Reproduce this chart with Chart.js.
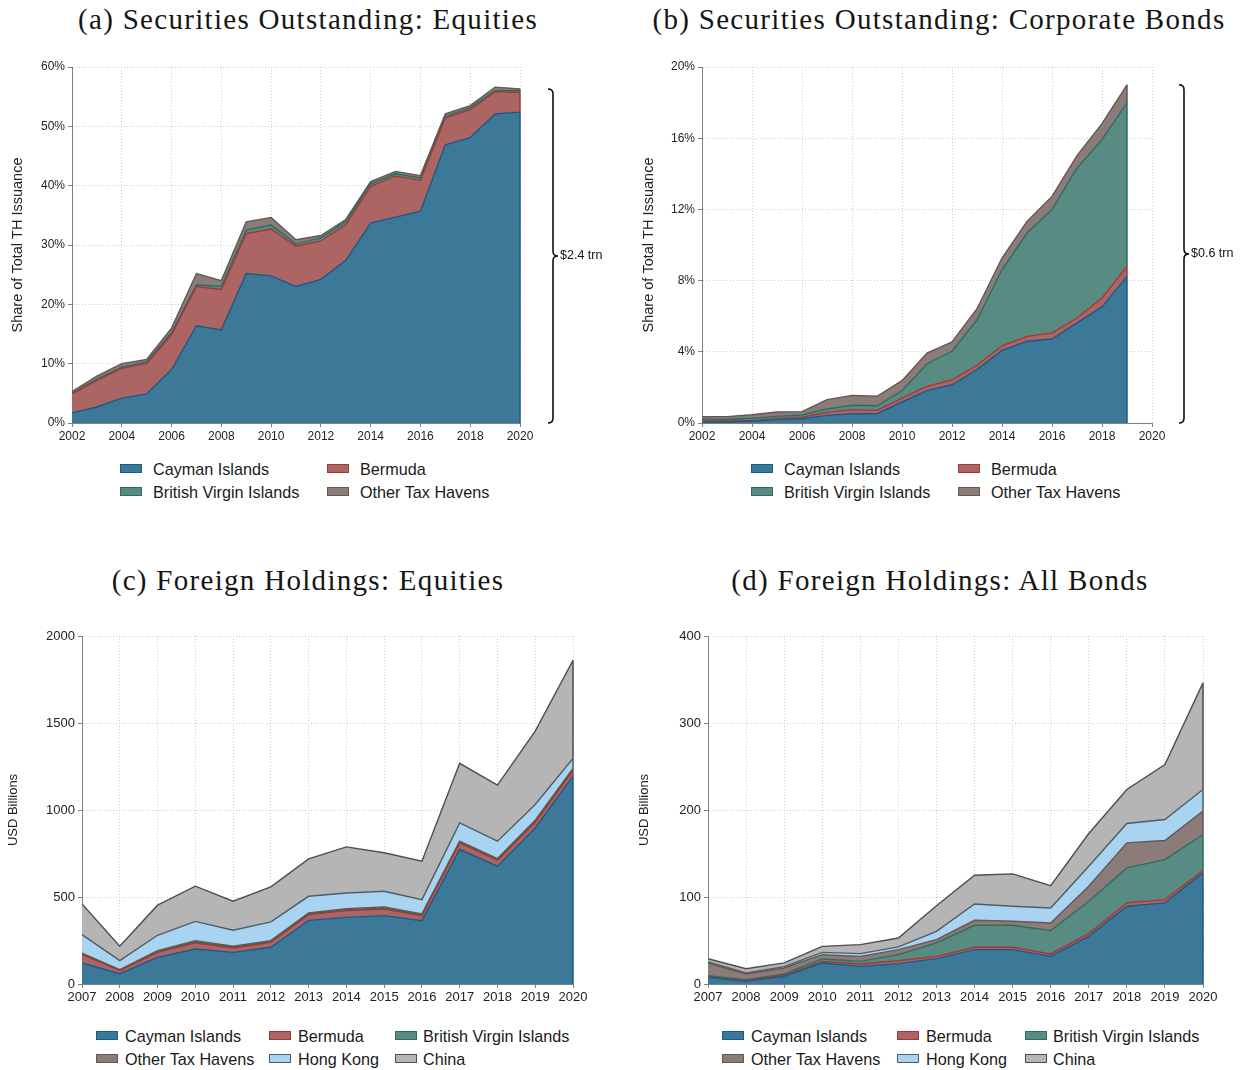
<!DOCTYPE html>
<html>
<head>
<meta charset="utf-8">
<script src="https://cdn.jsdelivr.net/npm/chart.js@4.4.1/dist/chart.umd.min.js"></script>
<style>
  html, body { margin: 0; padding: 0; background: #fff; }
  body { width: 1242px; height: 1070px; position: relative; overflow: hidden;
         font-family: "Liberation Sans", Arial, sans-serif; color: #222; }
  canvas { position: absolute; }
  .title { position: absolute; white-space: nowrap; transform: translateX(-50%);
           font-family: "Liberation Serif", "Times New Roman", serif; font-size: 29px;
           letter-spacing: 1.3px; line-height: 32px; color: #151515; }
  .sw { position: absolute; width: 20px; height: 7px; border-style: solid; border-width: 1.5px; }
  .lt { position: absolute; font-size: 16.2px; line-height: 18px; white-space: nowrap; color: #1a1a1a; }
</style>
</head>
<body>
<div class="title" style="left:308px; top:3px;">(a) Securities Outstanding: Equities</div>
<div class="title" style="left:939px; top:3px;">(b) Securities Outstanding: Corporate Bonds</div>
<div class="title" style="left:308px; top:564px;">(c) Foreign Holdings: Equities</div>
<div class="title" style="left:940px; top:564px;">(d) Foreign Holdings: All Bonds</div>

<canvas id="cA" width="621" height="400" style="left:0px; top:50px;"></canvas>
<canvas id="cB" width="621" height="400" style="left:621px; top:50px;"></canvas>
<canvas id="cC" width="621" height="390" style="left:0px; top:620px;"></canvas>
<canvas id="cD" width="621" height="390" style="left:621px; top:620px;"></canvas>

<script>
// ---- Securities outstanding: share of total tax-haven issuance (%) ----
const secYears = [2002, 2003, 2004, 2005, 2006, 2007, 2008, 2009, 2010, 2011,
                  2012, 2013, 2014, 2015, 2016, 2017, 2018, 2019, 2020];
const eqCayman  = [1.7, 2.7, 4.2, 4.9, 9.0, 16.4, 15.7, 25.2, 24.8, 23.0, 24.2, 27.4, 33.7, 34.7, 35.7, 46.9, 48.1, 52.1, 52.4];
const eqBermuda = [3.2, 4.5, 5.0, 5.1, 5.9, 6.6, 6.8, 6.7, 7.9, 6.8, 6.5, 6.0, 6.2, 6.9, 5.2, 4.5, 4.7, 3.7, 3.3];
const eqBVI     = [0.1, 0.2, 0.2, 0.3, 0.3, 0.3, 0.5, 0.6, 0.65, 0.4, 0.5, 0.5, 0.4, 0.4, 0.4, 0.3, 0.3, 0.2, 0.3];
const eqOther   = [0.3, 0.5, 0.6, 0.4, 0.8, 1.9, 1.0, 1.4, 1.3, 0.7, 0.4, 0.4, 0.4, 0.4, 0.4, 0.4, 0.4, 0.6, 0.3];

const bondYears = [2002, 2003, 2004, 2005, 2006, 2007, 2008, 2009, 2010, 2011,
                   2012, 2013, 2014, 2015, 2016, 2017, 2018, 2019];
const bdCayman  = [0.05, 0.06, 0.1, 0.19, 0.24, 0.43, 0.52, 0.52, 1.18, 1.82, 2.15, 3.0, 4.08, 4.59, 4.72, 5.62, 6.52, 8.24];
const bdBermuda = [0.05, 0.05, 0.05, 0.07, 0.08, 0.17, 0.23, 0.19, 0.22, 0.24, 0.28, 0.24, 0.26, 0.28, 0.34, 0.28, 0.5, 0.56];
const bdBVI     = [0.1, 0.1, 0.12, 0.11, 0.13, 0.19, 0.25, 0.26, 0.42, 1.27, 1.6, 2.56, 4.27, 5.8, 6.93, 8.43, 8.9, 9.18];
const bdOther   = [0.15, 0.15, 0.19, 0.25, 0.19, 0.52, 0.55, 0.53, 0.56, 0.6, 0.52, 0.62, 0.66, 0.66, 0.74, 0.69, 0.9, 1.02];

// ---- Foreign holdings (USD billions) ----
const holdYears = [2007, 2008, 2009, 2010, 2011, 2012, 2013, 2014, 2015, 2016, 2017, 2018, 2019, 2020];
const heCayman  = [121, 59, 153, 201, 182, 211, 366, 383, 393, 364, 773, 677, 897, 1195];
const heBermuda = [48, 18, 29, 35, 25, 29, 33, 39, 38, 29, 38, 33, 33, 32];
const heBVI     = [4, 2, 4, 5, 4, 4, 4, 5, 5, 4, 4, 4, 5, 5];
const heOther   = [5, 3, 6, 8, 6, 5, 5, 6, 7, 6, 6, 7, 6, 7];
const heHK      = [106, 52, 88, 111, 92, 108, 96, 90, 90, 82, 105, 100, 91, 57];
const heChina   = [176, 83, 173, 202, 167, 201, 215, 265, 221, 221, 342, 322, 421, 564];

const hbCayman  = [7.7, 3, 8.8, 24.2, 20.3, 23.4, 29.1, 39.5, 39.5, 31.8, 54.8, 89.4, 93.2, 127.7];
const hbBermuda = [0.7, 0.8, 1.2, 1.8, 2.7, 3.4, 2.7, 2.7, 2.7, 2.7, 3.1, 3.8, 3.8, 2.7];
const hbBVI     = [1.2, 1.2, 1.5, 2.8, 3, 6.9, 15.4, 25.3, 25.3, 26.9, 37.2, 40.3, 46, 41.4];
const hbOther   = [14.4, 6.5, 6.9, 4.9, 5.8, 5.8, 3.8, 5.7, 4.6, 8.8, 17.3, 28.7, 21.9, 26.9];
const hbHK      = [1.3, 1.2, 1.6, 2.7, 3.1, 3.1, 9.6, 18.8, 17.3, 17.2, 23, 22.3, 24.1, 24.9];
const hbChina   = [3.7, 4.9, 4.2, 6.9, 10.4, 10.3, 29.4, 33, 37.2, 25.6, 37.6, 39.1, 63.3, 122.7];

// Brace annotations (label text)
const eqBraceLabel = '$2.4 trn';
const bdBraceLabel = '$0.6 trn';

// ---- Palette ----
const STYLE = {
  'Cayman Islands':         { fill: '#3c7897', line: '#1b5a86' },
  'Bermuda':                { fill: '#ad6563', line: '#a23838' },
  'British Virgin Islands': { fill: '#588b82', line: '#2d6d61' },
  'Other Tax Havens':       { fill: '#8b7c7a', line: '#665654' },
  'Hong Kong':              { fill: '#a8d4f2', line: '#4f5c66' },
  'China':                  { fill: '#b5b5b5', line: '#4d4d4d' }
};

// Curly brace to the right of the plot, spanning 0 .. stacked total of the last year
const bracePlugin = {
  id: 'brace',
  afterDraw(chart, args, opts) {
    if (!opts || !opts.label) return;
    const ys = chart.scales.y;
    const ds = chart.data.datasets;
    let total = 0;
    ds.forEach(d => { total += d.data[d.data.length - 1].y; });
    const yTop = ys.getPixelForValue(total);
    const yBot = ys.getPixelForValue(0);
    const yMid = (yTop + yBot) / 2;
    const x = chart.chartArea.right + opts.offset;
    const r = 5;
    const ctx = chart.ctx;
    ctx.save();
    ctx.strokeStyle = '#111';
    ctx.lineWidth = 1.6;
    ctx.beginPath();
    ctx.moveTo(x - r, yTop);
    ctx.quadraticCurveTo(x, yTop, x, yTop + r);
    ctx.lineTo(x, yMid - r);
    ctx.quadraticCurveTo(x, yMid, x + r, yMid);
    ctx.quadraticCurveTo(x, yMid, x, yMid + r);
    ctx.lineTo(x, yBot - r);
    ctx.quadraticCurveTo(x, yBot, x - r, yBot);
    ctx.stroke();
    ctx.fillStyle = '#111';
    ctx.font = '12.5px "Liberation Sans", Arial, sans-serif';
    ctx.textAlign = 'left';
    ctx.textBaseline = 'middle';
    ctx.fillText(opts.label, x + r + 2, yMid);
    ctx.restore();
  }
};

// Close each stacked band on its right-hand side with its outline colour
const edgePlugin = {
  id: 'bandEdge',
  afterDatasetsDraw(chart) {
    const ctx = chart.ctx;
    const ys = chart.scales.y;
    let prevY = ys.getPixelForValue(0);
    const metas = chart.getSortedVisibleDatasetMetas();
    ctx.save();
    metas.forEach(meta => {
      const pts = meta.data;
      const p = pts[pts.length - 1];
      const ds = chart.data.datasets[meta.index];
      ctx.strokeStyle = ds.borderColor;
      ctx.lineWidth = 1.5;
      ctx.beginPath();
      ctx.moveTo(p.x, prevY);
      ctx.lineTo(p.x, p.y);
      ctx.stroke();
      prevY = p.y;
    });
    ctx.restore();
  }
};

function makeChart(id, years, series, cfg) {
  const datasets = series.map((s, i) => ({
    label: s.label,
    data: years.map((yr, j) => ({ x: yr, y: s.values[j] })),
    backgroundColor: STYLE[s.label].fill,
    borderColor: STYLE[s.label].line,
    borderWidth: 1.4,
    pointRadius: 0,
    tension: 0,
    fill: i === 0 ? 'origin' : '-1'
  }));
  const tickFont = { family: '"Liberation Sans", Arial, sans-serif', size: cfg.tickSize };
  const gridCommon = { color: '#cdcdcd', lineWidth: 1, tickLength: 4, tickColor: '#808080', tickWidth: 1 };
  const borderCommon = { color: '#808080', width: 1, dash: [1, 2] };
  return new Chart(document.getElementById(id), {
    type: 'line',
    data: { datasets },
    plugins: [bracePlugin, edgePlugin],
    options: {
      responsive: false,
      animation: false,
      events: [],
      layout: { padding: cfg.padding },
      plugins: {
        legend: { display: false },
        tooltip: { enabled: false },
        brace: cfg.brace || {}
      },
      scales: {
        x: {
          type: 'linear',
          min: cfg.xMin, max: cfg.xMax,
          afterFit: s => { s.height = 22; },
          ticks: { stepSize: cfg.xStep, autoSkip: false, maxRotation: 0, padding: 2,
                   color: '#222', font: tickFont, callback: v => String(v) },
          grid: gridCommon,
          border: borderCommon
        },
        y: {
          stacked: true,
          min: 0, max: cfg.yMax,
          afterFit: s => { s.width = cfg.yWidth; },
          ticks: { stepSize: cfg.yStep, padding: 3, color: '#222', font: tickFont,
                   callback: cfg.yFormat },
          grid: gridCommon,
          border: borderCommon,
          title: { display: true, text: cfg.yTitle, color: '#222',
                   font: { family: '"Liberation Sans", Arial, sans-serif', size: cfg.yTitleSize },
                   padding: { top: cfg.yTitlePad, bottom: 0 } }
        }
      }
    }
  });
}

const pct = v => v + '%';
const plain = v => String(v);

makeChart('cA', secYears, [
  { label: 'Cayman Islands', values: eqCayman },
  { label: 'Bermuda', values: eqBermuda },
  { label: 'British Virgin Islands', values: eqBVI },
  { label: 'Other Tax Havens', values: eqOther }
], { xMin: 2002, xMax: 2020, xStep: 2, yMax: 60, yStep: 10, yFormat: pct,
     yTitle: 'Share of Total TH Issuance', yTitleSize: 14.5, yTitlePad: 9, tickSize: 12,
     yWidth: 72, padding: { left: 0, top: 17, right: 101, bottom: 5 },
     brace: { label: eqBraceLabel, offset: 33 } });

makeChart('cB', bondYears, [
  { label: 'Cayman Islands', values: bdCayman },
  { label: 'Bermuda', values: bdBermuda },
  { label: 'British Virgin Islands', values: bdBVI },
  { label: 'Other Tax Havens', values: bdOther }
], { xMin: 2002, xMax: 2020, xStep: 2, yMax: 20, yStep: 4, yFormat: pct,
     yTitle: 'Share of Total TH Issuance', yTitleSize: 14.5, yTitlePad: 19, tickSize: 12,
     yWidth: 81, padding: { left: 0, top: 17, right: 90, bottom: 5 },
     brace: { label: bdBraceLabel, offset: 32 } });

makeChart('cC', holdYears, [
  { label: 'Cayman Islands', values: heCayman },
  { label: 'Bermuda', values: heBermuda },
  { label: 'British Virgin Islands', values: heBVI },
  { label: 'Other Tax Havens', values: heOther },
  { label: 'Hong Kong', values: heHK },
  { label: 'China', values: heChina }
], { xMin: 2007, xMax: 2020, xStep: 1, yMax: 2000, yStep: 500, yFormat: plain,
     yTitle: 'USD Billions', yTitleSize: 13, yTitlePad: 6, tickSize: 13,
     yWidth: 82, padding: { left: 0, top: 16, right: 48, bottom: 4 } });

makeChart('cD', holdYears, [
  { label: 'Cayman Islands', values: hbCayman },
  { label: 'Bermuda', values: hbBermuda },
  { label: 'British Virgin Islands', values: hbBVI },
  { label: 'Other Tax Havens', values: hbOther },
  { label: 'Hong Kong', values: hbHK },
  { label: 'China', values: hbChina }
], { xMin: 2007, xMax: 2020, xStep: 1, yMax: 400, yStep: 100, yFormat: plain,
     yTitle: 'USD Billions', yTitleSize: 13, yTitlePad: 16, tickSize: 13,
     yWidth: 87, padding: { left: 0, top: 16, right: 39, bottom: 4 } });

// ---- Legends (HTML, laid out in columns under each panel) ----
function legendItem(label, boxX, textX, yMid) {
  const st = STYLE[label];
  const sw = document.createElement('div');
  sw.className = 'sw';
  sw.style.left = boxX + 'px';
  sw.style.top = (yMid - 5) + 'px';
  sw.style.background = st.fill;
  sw.style.borderColor = st.line;
  document.body.appendChild(sw);
  const t = document.createElement('div');
  t.className = 'lt';
  t.textContent = label;
  t.style.left = textX + 'px';
  t.style.top = (yMid - 9) + 'px';
  document.body.appendChild(t);
}
// (a)
legendItem('Cayman Islands', 120, 153, 469);
legendItem('Bermuda', 327, 360, 469);
legendItem('British Virgin Islands', 120, 153, 492);
legendItem('Other Tax Havens', 327, 360, 492);
// (b)
legendItem('Cayman Islands', 751, 784, 469);
legendItem('Bermuda', 958, 991, 469);
legendItem('British Virgin Islands', 751, 784, 492);
legendItem('Other Tax Havens', 958, 991, 492);
// (c)
legendItem('Cayman Islands', 96, 125, 1036);
legendItem('Bermuda', 269, 298, 1036);
legendItem('British Virgin Islands', 395, 423, 1036);
legendItem('Other Tax Havens', 96, 125, 1059);
legendItem('Hong Kong', 269, 298, 1059);
legendItem('China', 395, 423, 1059);
// (d)
legendItem('Cayman Islands', 722, 751, 1036);
legendItem('Bermuda', 897, 926, 1036);
legendItem('British Virgin Islands', 1025, 1053, 1036);
legendItem('Other Tax Havens', 722, 751, 1059);
legendItem('Hong Kong', 897, 926, 1059);
legendItem('China', 1025, 1053, 1059);
</script>
</body>
</html>
